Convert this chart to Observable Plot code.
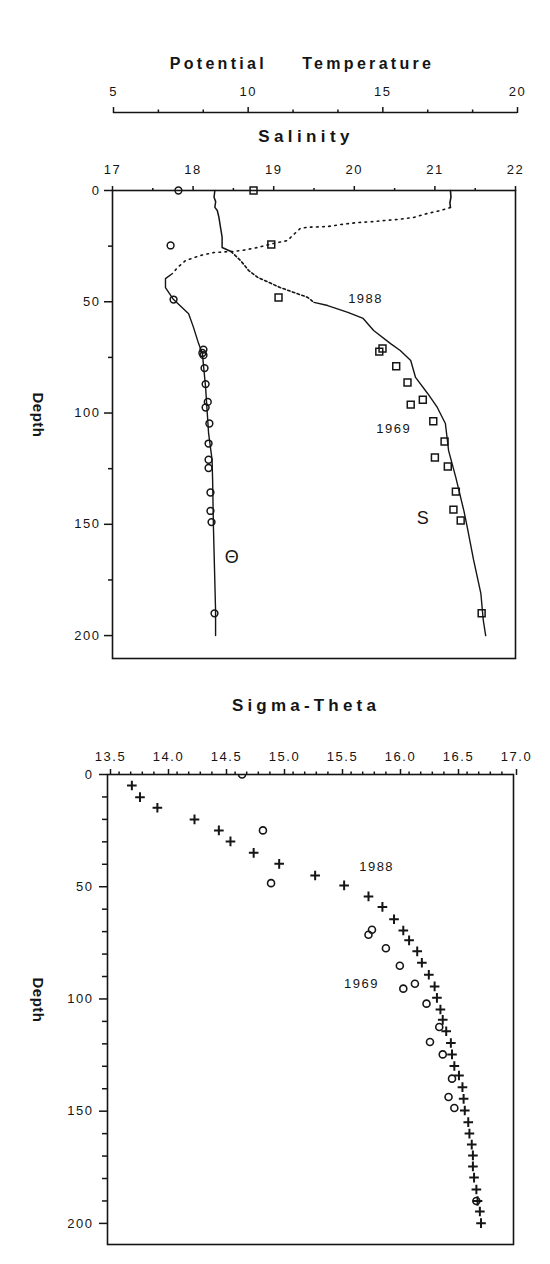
<!DOCTYPE html>
<html><head><meta charset="utf-8">
<script src="https://cdn.jsdelivr.net/npm/d3@7"></script>
<script src="https://cdn.jsdelivr.net/npm/@observablehq/plot@0.6"></script>
<style>
body{margin:0;background:#fff;}
#wrap{position:relative;width:550px;height:1264px;background:#fff;font-family:"Liberation Sans",Arial,Helvetica,sans-serif;color:#151515;overflow:hidden}
.title{position:absolute;font-weight:bold;white-space:nowrap;transform:translateX(-50%);line-height:1;}
.ylab{position:absolute;font-weight:bold;font-size:15px;line-height:1;letter-spacing:0.5px;transform:translate(-50%,-50%) rotate(90deg);white-space:nowrap}
</style></head><body><div id="wrap"></div>
<script>
// ---------- axis ticks / labels ----------
const tempTicks = [5, 10, 15, 20];
const tempMinorTicks = [20/3, 25/3, 35/3, 40/3, 50/3, 55/3];
const salTicks = [17, 18, 19, 20, 21, 22];
const salMinorTicks = [17.5, 18.5, 19.5, 20.5, 21.5];
const depthTicks = [0, 50, 100, 150, 200];
const depthMinorUpper = [25, 75, 125, 175];
const depthMinorLower = [10,20,30,40,60,70,80,90,110,120,130,140,160,170,180,190];
const sigmaTicks = [13.5, 14.0, 14.5, 15.0, 15.5, 16.0, 16.5, 17.0];
const sigmaMinorTicks = d3.range(136, 170).filter(v => v % 5 !== 0).map(v => v / 10);

// ---------- data: [depth (m), value] ----------
// 1988 potential temperature profile (deg C)
const theta1988 = [[0,17.51],[3,17.53],[5.5,17.49],[7.6,17.51],[9,17.14],[10.3,16.66],[12.1,16.14],[13,15.58],[13.5,15.03],[13.9,14.73],[14.4,14.06],[15.3,13.43],[16.2,12.95],[16.5,12.24],[17,11.94],[20.2,11.65],[22.5,11.46],[23.8,10.94],[25.6,10.35],[26.5,9.98],[27,9.72],[27.4,9.42],[27.9,8.71],[29.2,8.23],[31.5,7.67],[34.6,7.38],[37.3,7.19],[39.6,6.93],[43.6,6.93],[49,7.23],[55.4,7.79],[61.5,7.97],[68.8,8.16],[73.3,8.30],[88.5,8.42],[109,8.53],[121,8.66],[130,8.68],[151,8.71],[170,8.75],[189,8.79],[200,8.79]];
// 1988 salinity profile
const sal1988 = [[0,18.27],[3,18.26],[5,18.28],[7.6,18.27],[9,18.30],[12,18.32],[16.6,18.34],[21,18.36],[25.6,18.36],[27.4,18.47],[31.5,18.59],[36,18.69],[39,18.80],[43.6,19.08],[48,19.42],[50.3,19.50],[51.7,19.67],[54.8,19.92],[57.5,20.11],[62.9,20.24],[68.8,20.45],[71.9,20.57],[76.4,20.70],[84,20.76],[91.2,20.91],[97.5,21.03],[104.7,21.13],[116.9,21.17],[129,21.26],[144,21.36],[151,21.40],[166,21.48],[181,21.57],[193,21.60],[200,21.63]];
// 1969 bottle data
const theta1969 = [[0,7.41],[24.7,7.12],[49,7.23],[71.5,8.34],[73,8.30],[74,8.34],[79.8,8.38],[87,8.42],[95,8.50],[97.5,8.42],[104.7,8.56],[113.7,8.53],[121,8.53],[124.7,8.53],[135.7,8.60],[144,8.60],[149,8.64],[190,8.75]];
const sal1969 = [[0,18.75],[24.3,18.97],[48.1,19.06],[71,20.35],[72.4,20.31],[79,20.52],[86.3,20.66],[94,20.85],[96.2,20.70],[103.7,20.98],[112.8,21.12],[120,21.00],[124,21.16],[135.3,21.26],[143.4,21.23],[148.3,21.32],[190,21.58]];
// Sigma-theta
const sigma1988 = [[4.9,13.71],[10.1,13.78],[14.8,13.93],[20,14.25],[24.9,14.46],[29.8,14.56],[34.9,14.76],[39.8,14.98],[45,15.29],[49.4,15.54],[54.3,15.75],[59,15.87],[64.5,15.97],[69.5,16.05],[73.9,16.10],[78.8,16.17],[83.9,16.21],[89.2,16.27],[94.4,16.32],[99.5,16.34],[104.7,16.37],[109.3,16.39],[114.4,16.42],[119.6,16.46],[124.7,16.47],[129.9,16.49],[134.1,16.53],[139.3,16.56],[144.5,16.57],[149.7,16.58],[154.9,16.61],[160,16.62],[164.9,16.64],[169.7,16.65],[174.6,16.65],[179.6,16.66],[184.9,16.68],[190,16.69],[194.7,16.71],[199.9,16.72]];
const sigma1969 = [[0,14.66],[24.9,14.84],[48.4,14.91],[69.2,15.78],[71.4,15.75],[77.4,15.90],[85.2,16.02],[93.2,16.15],[95.4,16.05],[102.1,16.25],[112.5,16.36],[119.2,16.28],[124.7,16.39],[135.5,16.47],[143.7,16.44],[148.6,16.49],[190,16.68]];

// annotation labels [text, value, depth]
const upperSalLabels = [["1988", 20.14, 48.5], ["1969", 20.49, 107], ["S", 20.86, 147.4]];
const upperTempLabels = [["\u0398", 9.42, 165]];
const lowerLabels = [["1988", 15.82, 41], ["1969", 15.69, 93.2]];

const rows = a => a.map(([d, v]) => ({d, v}));
const labs = a => a.map(([t, v, d]) => ({t, v, d}));

const FONT = '"Liberation Sans", Arial, Helvetica, sans-serif';
const INK = "#151515";
const baseStyle = {background: "transparent", fontFamily: FONT, fontSize: "13px", color: INK, overflow: "visible", letterSpacing: "1.5px"};
const wrap = document.getElementById("wrap");
function place(node, top) { node.style.position = "absolute"; node.style.left = "0px"; node.style.top = top + "px"; wrap.appendChild(node); }
function div(cls, text, css) { const e = document.createElement("div"); e.className = cls; e.textContent = text; Object.assign(e.style, css); wrap.appendChild(e); }

// ---------- upper panel: temperature layer ----------
const th88 = rows(theta1988);
const tempPlot = Plot.plot({
  width: 550, height: 700,
  marginTop: 112, marginLeft: 113, marginRight: 33, marginBottom: 42,
  style: baseStyle,
  x: {domain: [5, 20], axis: null, label: null},
  y: {domain: [0, 210.3], range: [190, 658], axis: null, label: null},
  marks: [
    Plot.ruleY([0], {dy: -78, stroke: INK, strokeWidth: 1.5}),
    Plot.axisX(tempTicks, {anchor: "top", tickSize: 6, tickPadding: 11, strokeWidth: 1.5, label: null, tickFormat: d => String(d)}),
    Plot.axisX(tempMinorTicks, {anchor: "top", tickSize: 3.5, strokeWidth: 1.5, label: null, tickFormat: () => ""}),
    Plot.line(th88.filter(p => p.d <= 7.6), {x: "v", y: "d", stroke: INK, strokeWidth: 1.6}),
    Plot.line(th88.filter(p => p.d >= 7.6 && p.d <= 37.3), {x: "v", y: "d", stroke: INK, strokeWidth: 1.6, strokeDasharray: "1.6 4.5"}),
    Plot.line(th88.filter(p => p.d >= 37.3), {x: "v", y: "d", stroke: INK, strokeWidth: 1.4}),
    Plot.dot(rows(theta1969), {x: "v", y: "d", r: 3.4, stroke: INK, strokeWidth: 1.5, fill: "none"}),
    Plot.text(labs(upperTempLabels), {x: "v", y: "d", text: "t", fontSize: 18, fill: INK})
  ]
});
place(tempPlot, 0);

// ---------- upper panel: salinity layer ----------
const s88 = rows(sal1988);
const salPlot = Plot.plot({
  width: 550, height: 700,
  marginTop: 190, marginLeft: 112, marginRight: 35, marginBottom: 42,
  style: baseStyle,
  x: {domain: [17, 22], axis: null, label: null},
  y: {domain: [0, 210.3], reverse: true, axis: null, label: null},
  marks: [
    Plot.frame({stroke: INK, strokeWidth: 1.6}),
    Plot.axisX(salTicks, {anchor: "top", tickSize: 5, tickPadding: 12, strokeWidth: 1.5, label: null, tickFormat: d => String(d)}),
    Plot.axisX(salMinorTicks, {anchor: "top", tickSize: 3, strokeWidth: 1.5, label: null, tickFormat: () => ""}),
    Plot.axisY(depthTicks, {anchor: "left", tickSize: 8, tickPadding: 4, strokeWidth: 1.5, label: null, tickFormat: d => String(d)}),
    Plot.axisY(depthMinorUpper, {anchor: "left", tickSize: 4, strokeWidth: 1.5, label: null, tickFormat: () => ""}),
    Plot.line(s88.filter(p => p.d <= 27.4), {x: "v", y: "d", stroke: INK, strokeWidth: 1.5}),
    Plot.line(s88.filter(p => p.d >= 27.4 && p.d <= 50.3), {x: "v", y: "d", stroke: INK, strokeWidth: 1.6, strokeDasharray: "2.5 2.5"}),
    Plot.line(s88.filter(p => p.d >= 50.3), {x: "v", y: "d", stroke: INK, strokeWidth: 1.4}),
    Plot.dot(rows(sal1969), {x: "v", y: "d", r: 3.9, symbol: "square", stroke: INK, strokeWidth: 1.5, fill: "none"}),
    Plot.text(labs(upperSalLabels), {x: "v", y: "d", text: "t", fontSize: d => d.t === "S" ? 18 : 13, fill: INK})
  ]
});
place(salPlot, 0);

// ---------- lower panel: sigma-theta ----------
const sigPlot = Plot.plot({
  width: 550, height: 564,
  marginTop: 74, marginLeft: 107, marginRight: 37, marginBottom: 20,
  style: baseStyle,
  x: {domain: [13.5, 17.0], axis: null, label: null},
  y: {domain: [0, 209.4], reverse: true, axis: null, label: null},
  marks: [
    Plot.frame({stroke: INK, strokeWidth: 1.6}),
    Plot.axisX(sigmaTicks, {anchor: "top", tickSize: 6, tickPadding: 8, strokeWidth: 1.5, label: null, dx: 3, tickFormat: d => d.toFixed(1)}),
    Plot.axisX(sigmaMinorTicks, {anchor: "top", tickSize: 3.5, strokeWidth: 1.5, label: null, tickFormat: () => ""}),
    Plot.axisY(depthTicks, {anchor: "left", tickSize: 8, tickPadding: 6, strokeWidth: 1.5, label: null, tickFormat: d => String(d)}),
    Plot.axisY(depthMinorLower, {anchor: "left", tickSize: 5, strokeWidth: 1.5, label: null, tickFormat: () => ""}),
    Plot.dot(rows(sigma1988), {x: "v", y: "d", r: 3.2, symbol: "plus", stroke: INK, strokeWidth: 2}),
    Plot.dot(rows(sigma1969), {x: "v", y: "d", r: 3.5, stroke: INK, strokeWidth: 1.6, fill: "none", clip: true}),
    Plot.text(labs(lowerLabels), {x: "v", y: "d", text: "t", fontSize: 13, fill: INK})
  ]
});
place(sigPlot, 700);

// ---------- titles ----------
div("title", "Potential   Temperature", {left: "302px", top: "56px", fontSize: "16px", letterSpacing: "3.3px", wordSpacing: "4px", whiteSpace: "pre"});
div("title", "Salinity", {left: "306px", top: "128px", fontSize: "17px", letterSpacing: "4.4px"});
div("title", "Sigma-Theta", {left: "306px", top: "697px", fontSize: "17px", letterSpacing: "4.2px"});
div("ylab", "Depth", {left: "38px", top: "415px"});
div("ylab", "Depth", {left: "38px", top: "1000px"});
</script></body></html>
